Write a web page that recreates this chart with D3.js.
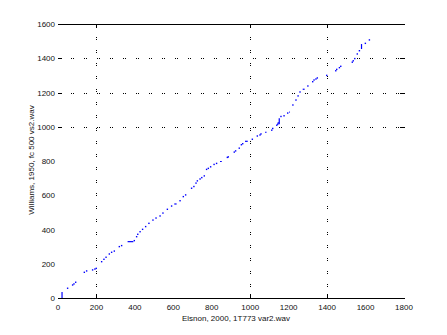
<!DOCTYPE html>
<html>
<head>
<meta charset="utf-8">
<script src="https://cdn.jsdelivr.net/npm/d3@7"></script>
<style>
  body { margin: 0; background: #fff; }
  text { font-family: "Liberation Sans", Helvetica, Arial, sans-serif; font-size: 8px; fill: #111; }
</style>
</head>
<body>
<div id="chart"></div>
<script>
// tick values
var xTicks = [0, 200, 400, 600, 800, 1000, 1200, 1400, 1600, 1800],
    yTicks = [0, 200, 400, 600, 800, 1000, 1200, 1400, 1600],
    xGrid  = [200, 1000, 1400],
    yGrid  = [1000, 1200, 1400];

// alignment points (Eisnon x, Williams y)
var px = [50, 76, 83, 92, 137, 149, 180, 192, 199, 227, 239, 250, 267, 279, 293, 319, 331,
          397, 409, 415, 427, 440, 456, 473, 494, 510, 531, 546, 569, 591, 635, 652, 664,
          695, 707, 718, 725, 739, 748, 761, 773, 782, 794, 812, 825, 881, 886, 917, 924,
          943, 954, 961, 1011, 1037, 1051, 1056, 1112, 1117, 1138, 1143, 1146, 1160, 1176,
          1195, 1222, 1238, 1249, 1259, 1300, 1325, 1332, 1342, 1349, 1398, 1445, 1450,
          1464, 1471, 1531, 1536, 1544, 1557, 1568, 1599, 1620];
var py = [57, 76, 82, 92, 150, 158, 164, 169, 173, 212, 226, 238, 257, 267, 274, 300, 306,
          335, 358, 372, 387, 401, 417, 436, 455, 467, 479, 496, 518, 537, 568, 592, 602,
          641, 651, 671, 684, 695, 703, 713, 751, 757, 766, 780, 786, 821, 824, 852, 859,
          875, 895, 901, 927, 946, 952, 958, 980, 990, 1009, 1015, 1022, 1060, 1064,
          1080, 1127, 1156, 1180, 1203, 1238, 1263, 1273, 1279, 1285, 1300, 1327, 1335,
          1345, 1353, 1377, 1385, 1398, 1425, 1444, 1487, 1507];

// flat / vertical runs: [x0, y0, x1, y1]
var runs = [[21, 0, 21, 35], [362, 329, 392, 329], [605, 549, 617, 549], [843, 797, 852, 797],
            [973, 915, 987, 915], [1077, 968, 1085, 968], [1151, 1015, 1151, 1049],
            [1203, 1085, 1207, 1085], [1273, 1219, 1283, 1219], [1579, 1454, 1579, 1483]];

var W = 447, H = 335,
    mLeft = 58, mRight = 404, mTop = 24, mBottom = 298;

var svg = d3.select('#chart').append('svg')
  .attr('width', W)
  .attr('height', H);

var x = d3.scaleLinear().domain([0, 1800]).range([mLeft, mRight]),
    y = d3.scaleLinear().domain([0, 1600]).range([mBottom, mTop]);

// grid
svg.selectAll('.vgrid').data(xGrid).enter().append('line')
  .attr('x1', d => Math.round(x(d)) + 0.5).attr('x2', d => Math.round(x(d)) + 0.5)
  .attr('y1', mTop).attr('y2', mBottom)
  .attr('stroke', '#000').attr('stroke-width', 1)
  .attr('stroke-dasharray', '1,1,1,10');
svg.selectAll('.hgrid').data(yGrid).enter().append('line')
  .attr('y1', d => Math.round(y(d)) + 0.5).attr('y2', d => Math.round(y(d)) + 0.5)
  .attr('x1', mLeft).attr('x2', mRight)
  .attr('stroke', '#000').attr('stroke-width', 1)
  .attr('stroke-dasharray', '1,1,1,10');

// top and bottom frame lines
[mTop, mBottom].forEach(function(v) {
  svg.append('line')
    .attr('x1', mLeft).attr('x2', mRight + 1)
    .attr('y1', v + 0.5).attr('y2', v + 0.5)
    .attr('stroke', '#000').attr('stroke-width', 1);
});

// tick marks where the grid is
xGrid.forEach(function(d) {
  var xx = Math.round(x(d)) + 0.5;
  svg.append('line').attr('x1', xx).attr('x2', xx).attr('y1', mBottom).attr('y2', mBottom - 4)
    .attr('stroke', '#000');
  svg.append('line').attr('x1', xx).attr('x2', xx).attr('y1', mTop).attr('y2', mTop + 4)
    .attr('stroke', '#000');
});
yGrid.forEach(function(d) {
  var yy = Math.round(y(d)) + 0.5;
  svg.append('line').attr('x1', mLeft).attr('x2', mLeft + 4).attr('y1', yy).attr('y2', yy)
    .attr('stroke', '#000');
  svg.append('line').attr('x1', mRight - 4).attr('x2', mRight + 1).attr('y1', yy).attr('y2', yy)
    .attr('stroke', '#000');
});

// tick labels
svg.selectAll('.xt').data(xTicks).enter().append('text')
  .attr('x', d => x(d)).attr('y', mBottom + 12)
  .attr('text-anchor', 'middle')
  .text(d => d);
svg.selectAll('.yt').data(yTicks).enter().append('text')
  .attr('x', mLeft - 3).attr('y', d => y(d) + 3)
  .attr('text-anchor', 'end')
  .text(d => d);

// axis titles
svg.append('text')
  .attr('x', 236).attr('y', 321)
  .attr('text-anchor', 'middle')
  .text('Elsnon, 2000, 1T773 var2.wav');
svg.append('text')
  .attr('transform', 'translate(34,160) rotate(-90)')
  .attr('text-anchor', 'middle')
  .text('Williams, 1950, fc 500 vs2.wav');

// data
svg.selectAll('.run').data(runs).enter().append('line')
  .attr('x1', d => x(d[0])).attr('y1', d => y(d[1]))
  .attr('x2', d => x(d[2])).attr('y2', d => y(d[3]))
  .attr('stroke', '#0000ff').attr('stroke-width', 1.2);
svg.selectAll('.pt').data(px).enter().append('rect')
  .attr('x', (d, i) => x(d) - 0.7)
  .attr('y', (d, i) => y(py[i]) - 0.7)
  .attr('width', 1.4).attr('height', 1.4)
  .attr('fill', '#0000ff');
</script>
</body>
</html>
